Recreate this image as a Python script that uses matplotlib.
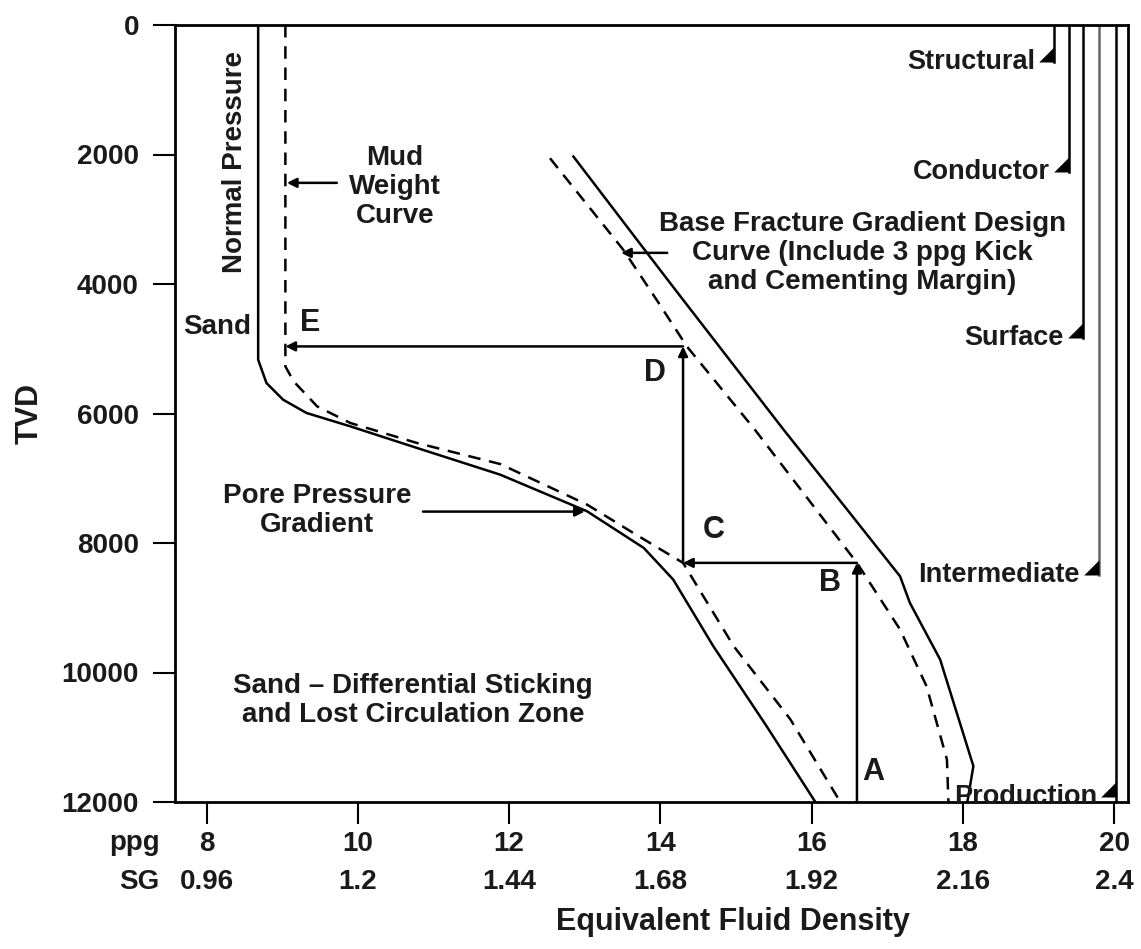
import matplotlib
matplotlib.use("Agg")
import matplotlib.pyplot as plt
import numpy as np

plt.rcParams['font.family'] = ['Liberation Sans', 'DejaVu Sans']
plt.rcParams['font.weight'] = 'bold'

# axis ticks
tvd_ticks = [0, 2000, 4000, 6000, 8000, 10000, 12000]
ppg_ticks = [8, 10, 12, 14, 16, 18, 20]
sg_labels = ['0.96', '1.2', '1.44', '1.68', '1.92', '2.16', '2.4']

# pore pressure gradient (solid)
pore_ppg = [8.68, 8.68, 8.79, 9.01, 9.32, 9.90, 10.78, 11.88, 13.03, 13.78, 14.17, 14.70, 15.39, 16.05]
pore_tvd = [0, 5170, 5530, 5787, 5992, 6199, 6532, 6944, 7510, 8076, 8565, 9594, 10803, 12000]

# mud weight curve (dashed)
mw_ppg = [9.04, 9.04, 9.15, 9.46, 9.90, 10.78, 11.88, 13.03, 13.64, 14.30, 14.97, 15.72, 16.38]
mw_tvd = [0, 5273, 5505, 5890, 6147, 6455, 6780, 7407, 7844, 8307, 9594, 10725, 12000]

# fracture gradient (solid)
frac_ppg = [12.85, 13.86, 14.30, 15.63, 16.40, 17.17, 17.30, 17.70, 18.14, 18.06]
frac_tvd = [2032, 3576, 4244, 6250, 7381, 8514, 8925, 9799, 11446, 12000]

# base fracture gradient design curve (dashed)
design_ppg = [12.54, 13.51, 13.95, 14.35, 15.25, 16.60, 17.17, 17.52, 17.79, 17.81]
design_tvd = [2058, 3472, 4244, 4964, 6250, 8307, 9336, 10211, 11343, 12000]

# casing seats
casing_names = ['Structural', 'Conductor', 'Surface', 'Intermediate', 'Production']
casing_ppg = [19.21, 19.41, 19.59, 19.80, 20.03]
casing_tvd = [571, 2268, 4830, 8488, 11930]

# casing selection path A -> B -> C -> D -> E
path_ppg = [16.60, 16.60, 14.30, 14.30, 9.04]
path_tvd = [12000, 8307, 8307, 4964, 4964]

fig = plt.figure(figsize=(11.41, 9.49), dpi=100)
ax = fig.add_axes([175/1141, 1 - 802/949, 953/1141, 777/949])
ink = '#1a1a1a'
dash = (0, (5, 3.5))

ax.plot(pore_ppg, pore_tvd, color='k', lw=1.8)
ax.plot(mw_ppg, mw_tvd, color='k', lw=1.8, ls=dash)
ax.plot(frac_ppg, frac_tvd, color='k', lw=1.8)
ax.plot(design_ppg, design_tvd, color='k', lw=1.8, ls=dash)

# casing strings and shoes
shoe = [(-1, 0), (0, 0), (0, 1), (-1, 0)]
for name, x, d in zip(casing_names, casing_ppg, casing_tvd):
    col = '#666666' if name == 'Intermediate' else 'k'
    ax.plot([x, x], [0, max(d, 12000) if name == 'Production' else d], color=col, lw=1.8)
    ax.plot([x], [d], marker=shoe, ms=22, color='k', mew=0, clip_on=False)
    ax.annotate(name, xy=(x, d), xytext=(-14, 0), textcoords='offset points',
                ha='right', va='center', fontsize=19.5, color=ink)

# design path arrows
arrow = dict(arrowstyle='-|>', color='k', lw=1.8, mutation_scale=14, shrinkA=0, shrinkB=0)
for i in range(len(path_ppg) - 1):
    ax.annotate('', xy=(path_ppg[i+1], path_tvd[i+1]), xytext=(path_ppg[i], path_tvd[i]),
                arrowprops=arrow)

# letters
ax.text(16.82, 11543, 'A', fontsize=22, ha='center', va='center', color=ink)
ax.text(16.25, 8611, 'B', fontsize=22, ha='center', va='center', color=ink)
ax.text(14.70, 7793, 'C', fontsize=22, ha='center', va='center', color=ink)
ax.text(13.93, 5370, 'D', fontsize=22, ha='center', va='center', color=ink)
ax.text(9.37, 4599, 'E', fontsize=22, ha='center', va='center', color=ink)

# labels and pointers
ax.text(8.37, 2114, 'Normal Pressure', rotation=90, fontsize=20, ha='center', va='center', color=ink)
ax.text(10.49, 2500, 'Mud\nWeight\nCurve', fontsize=20, ha='center', va='center', color=ink, linespacing=1.15)
ax.annotate('', xy=(9.06, 2438), xytext=(9.72, 2438), arrowprops=arrow)
ax.text(8.14, 4660, 'Sand', fontsize=20, ha='center', va='center', color=ink)
ax.text(16.67, 3519, 'Base Fracture Gradient Design\nCurve (Include 3 ppg Kick\nand Cementing Margin)',
        fontsize=20, ha='center', va='center', color=ink, linespacing=1.15)
ax.annotate('', xy=(13.48, 3519), xytext=(14.09, 3519), arrowprops=arrow)
ax.text(9.46, 7500, 'Pore Pressure\nGradient', fontsize=20, ha='center', va='center', color=ink, linespacing=1.15)
ax.annotate('', xy=(13.0, 7515), xytext=(10.86, 7515), arrowprops=arrow)
ax.text(10.73, 10432, 'Sand \u2013 Differential Sticking\nand Lost Circulation Zone',
        fontsize=20, ha='center', va='center', color=ink, linespacing=1.15)

ax.set_xlim(7.58, 20.185)
ax.set_ylim(12000, 0)
ax.set_yticks(tvd_ticks)
ax.set_xticks(ppg_ticks)
ax.tick_params(axis='both', direction='out', length=16, width=1.5, labelsize=20, colors='k', labelcolor=ink)
ax.tick_params(axis='y', pad=10)
ax.tick_params(axis='x', pad=5)
for s in ax.spines.values():
    s.set_linewidth(2)

for x, lab in zip(ppg_ticks, sg_labels):
    ax.text(x, -0.103, lab, transform=ax.get_xaxis_transform(), ha='center', va='center',
            fontsize=20, color=ink)
ax.text(-0.016, -0.053, 'ppg', transform=ax.transAxes, ha='right', va='center', fontsize=20, color=ink)
ax.text(-0.016, -0.103, 'SG', transform=ax.transAxes, ha='right', va='center', fontsize=20, color=ink)

fig.text(733/1141, 1 - 922/949, 'Equivalent Fluid Density', ha='center', va='center', fontsize=22, color=ink)
fig.text(30/1141, 1 - 414/949, 'TVD', rotation=90, ha='center', va='center', fontsize=22, color=ink)

fig.savefig('out.png', dpi=100)
